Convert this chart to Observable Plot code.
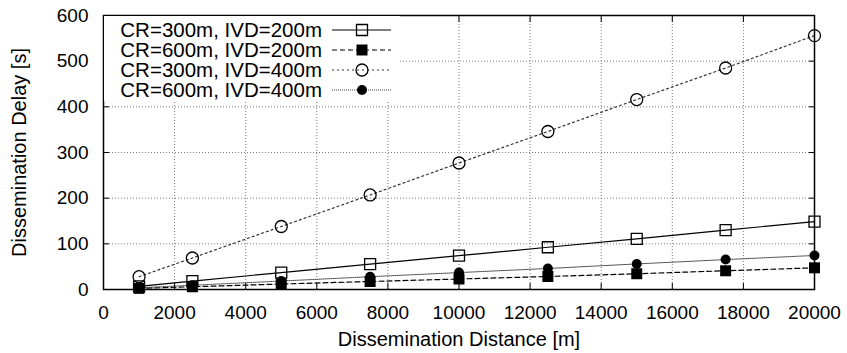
<!DOCTYPE html>
<html>
<head>
<meta charset="utf-8">
<script src="https://cdn.jsdelivr.net/npm/d3@7"></script>
<script src="https://cdn.jsdelivr.net/npm/@observablehq/plot@0.6"></script>
<style>
  html, body { margin: 0; padding: 0; background: white; }
  #chart { width: 847px; height: 353px; }
</style>
</head>
<body>
<div id="chart"></div>
<script>
// ---- data ----
const distance = [1000, 2500, 5000, 7500, 10000, 12500, 15000, 17500, 20000];
const cr300ivd200 = [7, 18.5, 37, 55.5, 74, 92.5, 111, 130, 148.5];
const cr600ivd200 = [2.5, 6, 12, 17.5, 23, 28.5, 34.5, 41, 47.5];
const cr300ivd400 = [28, 69, 138, 207, 277, 346, 416, 485, 556];
const cr600ivd400 = [3.7, 9.3, 18.5, 28, 37, 46, 56, 65.5, 74.5];
const seriesNames = ["CR=300m, IVD=200m", "CR=600m, IVD=200m", "CR=300m, IVD=400m", "CR=600m, IVD=400m"];
const xTicks = [0, 2000, 4000, 6000, 8000, 10000, 12000, 14000, 16000, 18000, 20000];
const yTicks = [0, 100, 200, 300, 400, 500, 600];
const xLabel = "Dissemination Distance [m]";
const yLabel = "Dissemination Delay [s]";

// ---- styles ----
const styles = [
  {values: cr300ivd200, stroke: "#000", dash: null, width: 1.2, symbol: "square", fill: "none", r: 6.2},
  {values: cr600ivd200, stroke: "#000", dash: "5,3", width: 1.2, symbol: "square", fill: "#000", r: 6.2},
  {values: cr300ivd400, stroke: "#333", dash: "2,3", width: 1.2, symbol: "circle", fill: "none", r: 6},
  {values: cr600ivd400, stroke: "#444", dash: "1,1", width: 1, symbol: "circle", fill: "#000", r: 5}
];
const rows = (vals) => distance.map((d, i) => ({x: d, y: vals[i]}));
const font = "'Liberation Sans', Arial, Helvetica, sans-serif";
const plain = d => String(d);

const marks = [
  Plot.gridX(xTicks, {stroke: "#7a7a7a", strokeOpacity: 1, strokeDasharray: "1,2"}),
  Plot.gridY(yTicks, {stroke: "#7a7a7a", strokeOpacity: 1, strokeDasharray: "1,2"}),
];
styles.forEach(s => {
  marks.push(Plot.line(rows(s.values), {x: "x", y: "y", stroke: s.stroke, strokeWidth: s.width, strokeDasharray: s.dash}));
});
styles.forEach(s => {
  marks.push(Plot.dot(rows(s.values), {x: "x", y: "y", symbol: s.symbol, r: s.r,
    fill: s.fill, stroke: "#000", strokeWidth: s.fill === "none" ? 1.3 : 0}));
});
marks.push(
  Plot.axisX(xTicks, {anchor: "bottom", tickSize: -6, tickPadding: 22, tickFormat: plain, label: null, fontSize: 19, stroke: "#000"}),
  Plot.axisX(xTicks, {anchor: "top", tickSize: -6, tickFormat: () => "", label: null, stroke: "#000"}),
  Plot.axisY(yTicks, {anchor: "left", tickSize: -6, tickPadding: 21, tickFormat: plain, label: null, fontSize: 19, stroke: "#000"}),
  Plot.axisY(yTicks, {anchor: "right", tickSize: -6, tickFormat: () => "", label: null, stroke: "#000"}),
  Plot.frame({stroke: "#000", strokeWidth: 1.5}),
  Plot.text([xLabel], {text: d => d, frameAnchor: "bottom", dy: 50, fontSize: 20, lineAnchor: "middle", textAnchor: "middle"}),
  Plot.text([yLabel], {text: d => d, frameAnchor: "left", dx: -84, rotate: -90, fontSize: 20, lineAnchor: "middle", textAnchor: "middle"})
);

const chart = Plot.plot({
  width: 847,
  height: 353,
  marginLeft: 103,
  marginRight: 33,
  marginTop: 15,
  marginBottom: 64,
  x: {domain: [0, 20000]},
  y: {domain: [0, 600]},
  style: {fontFamily: font, fontSize: "19px", background: "white", color: "#000", overflow: "visible"},
  marks
});
document.getElementById("chart").appendChild(chart);

// ---- legend (inside plot area, top-left) ----
const svg = d3.select(chart.tagName.toLowerCase() === "svg" ? chart : chart.querySelector("svg"));
const lg = svg.append("g").attr("class", "legend");
lg.append("rect").attr("x", 104).attr("y", 16).attr("width", 296).attr("height", 85).attr("fill", "white");
styles.forEach((s, i) => {
  const cy = 30 + 20 * i;
  lg.append("text").attr("x", 322).attr("y", cy).attr("dy", "0.35em")
    .attr("text-anchor", "end").attr("font-family", font).attr("font-size", 20.5).attr("fill", "#000")
    .text(seriesNames[i]);
  lg.append("line").attr("x1", 332).attr("x2", 391).attr("y1", cy).attr("y2", cy)
    .attr("stroke", s.stroke).attr("stroke-width", s.width)
    .attr("stroke-dasharray", s.dash);
  const sym = s.symbol === "square" ? d3.symbolSquare : d3.symbolCircle;
  lg.append("path").attr("transform", `translate(362,${cy})`)
    .attr("d", d3.symbol(sym, Math.PI * s.r * s.r)())
    .attr("fill", s.fill).attr("stroke", "#000").attr("stroke-width", s.fill === "none" ? 1.3 : 0);
});
</script>
</body>
</html>
